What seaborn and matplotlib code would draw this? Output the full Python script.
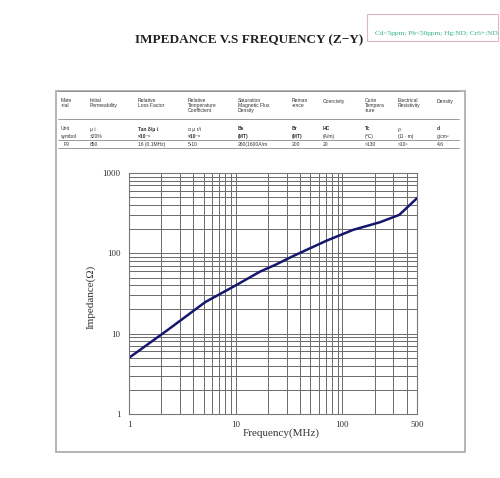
import numpy as np
import pandas as pd
import matplotlib
matplotlib.use("Agg")
import matplotlib.pyplot as plt
import seaborn as sns
from matplotlib.ticker import NullFormatter, FixedLocator, LogLocator
from matplotlib.patches import Rectangle

# ---- data ----
freq_mhz = [1, 2.3, 5.2, 9.8, 16.9, 23.4, 34.7, 71.3, 126, 225, 341, 500]
impedance = [5.0, 11.1, 24.8, 39.3, 59.2, 71.7, 92.8, 144, 196, 244, 301, 486]

x_ticks = [1, 10, 100, 500]
y_ticks = [1, 10, 100, 1000]

# ---- material table text ----
headers = [["Mate", "-rial"], ["Initial", "Permeability"], ["Relative", "Loss Factor"],
           ["Relative", "Temperature", "Coefficient"],
           ["Saturation", "Magnetic Flux", "Density"], ["Reman", "-ence"],
           ["Coercivity"], ["Curie", "Tempera", "-ture"],
           ["Electrical", "Resistivity"], ["Density"]]
unit_row = ["Unit", "μ i", "Tan δ/μ i", "α μ r/i", "Bs", "Br", "HC", "Tc", "ρ", "d"]
symbol_row = ["symbol", "±20%", "×10⁻⁶", "×10⁻⁶", "(MT)", "(MT)", "(A/m)", "(℃)", "(Ω · m)", "g/cm³"]
f9_row = ["F9", "850", "16 (0.1MHz)", "5-10", "260(1600A/m", "200", "20", ">130", ">10⁵", "4.6"]
bold_units = {"Bs", "Br", "HC", "Tc", "d", "×10⁻⁶", "(MT)"}

col_x = [61, 90, 138, 188, 238, 292, 323, 365, 398, 437]

sns.set_style("white")
plt.rcParams['font.family'] = ['Liberation Serif', 'DejaVu Serif']

W, H = 500, 478
fig = plt.figure(figsize=(W / 100, H / 100), dpi=100)


def fx(px):
    return px / W


def fy(py):
    return 1 - py / H


sans = ['Liberation Sans', 'DejaVu Sans']

# title + RoHS stamp
fig.text(fx(249), fy(40), "IMPEDANCE V.S FREQUENCY (Z−Y)", ha='center', va='center',
         fontsize=9.5, fontweight='bold', color='#222222')
fig.patches.append(Rectangle((fx(367), fy(41)), fx(131), 27 / H, transform=fig.transFigure,
                             fill=False, edgecolor='#e6b3c1', lw=0.8))
fig.text(fx(436), fy(33), "Cd<5ppm; Pb<50ppm; Hg:ND; Cr6+:ND", ha='center', va='center',
         fontsize=5.3, color='#35b08c')

# outer frame
fig.patches.append(Rectangle((fx(56), fy(452)), fx(409), 361 / H, transform=fig.transFigure,
                             fill=False, edgecolor='#a8a8a8', lw=1.2))

# table lines
for yy in [91, 119, 140, 148]:
    fig.add_artist(plt.Line2D([fx(58), fx(459)], [fy(yy), fy(yy)], transform=fig.transFigure,
                              color='#8a8a8a', lw=0.6))

for x, lines in zip(col_x, headers):
    for i, s in enumerate(lines):
        fig.text(fx(x), fy(101 + 4.6 * i), s, ha='left', va='center', fontsize=3.6,
                 family=sans, color='#333333')
for x, s in zip(col_x, unit_row):
    fig.text(fx(x), fy(129), s, ha='left', va='center', fontsize=3.6, family=sans,
             color='#333333', fontweight='bold' if s in bold_units or s.startswith("Tan") else 'normal')
for x, s in zip(col_x, symbol_row):
    fig.text(fx(x), fy(136.5), s, ha='left', va='center', fontsize=3.6, family=sans,
             color='#333333', fontweight='bold' if s in bold_units else 'normal')
for i, (x, s) in enumerate(zip(col_x, f9_row)):
    fig.text(fx(x + (3 if i == 0 else 0)), fy(144.3), s, ha='left', va='center', fontsize=3.6,
             family=sans, color='#333333')

# ---- impedance chart ----
ax = fig.add_axes([fx(129), 1 - 414 / H, 288 / W, 241 / H])
df = pd.DataFrame({"Frequency": freq_mhz, "Impedance": impedance})
sns.lineplot(data=df, x="Frequency", y="Impedance", ax=ax, color='#16166e', lw=1.8)

ax.set_xscale('log')
ax.set_yscale('log')
ax.set_xlim(1, 500)
ax.set_ylim(1, 1000)
ax.xaxis.set_major_locator(FixedLocator(x_ticks))
ax.set_xticklabels([str(t) for t in x_ticks])
ax.yaxis.set_major_locator(FixedLocator(y_ticks))
ax.set_yticklabels([str(t) for t in y_ticks])
ax.xaxis.set_minor_locator(LogLocator(base=10, subs=np.arange(2, 10), numticks=20))
ax.yaxis.set_minor_locator(LogLocator(base=10, subs=np.arange(2, 10), numticks=20))
ax.xaxis.set_minor_formatter(NullFormatter())
ax.yaxis.set_minor_formatter(NullFormatter())
ax.tick_params(which='both', length=0, labelsize=6.5, labelcolor='#333333')
ax.tick_params(axis='y', pad=6)
ax.tick_params(axis='x', pad=5)
ax.grid(True, which='both', color='#6a6a6a', lw=0.7)
for sp in ax.spines.values():
    sp.set_color('#777777')
    sp.set_linewidth(0.8)

ax.set_xlabel("Frequency(MHz)", fontsize=8, color='#333333')
ax.set_ylabel("Impedance(Ω)", fontsize=8, color='#333333')
ax.xaxis.label.set_va('center')
ax.yaxis.label.set_va('center')
ax.xaxis.set_label_coords(0.53, -0.079)
ax.yaxis.set_label_coords(-0.133, 0.485)

fig.savefig("out.png", dpi=100)
